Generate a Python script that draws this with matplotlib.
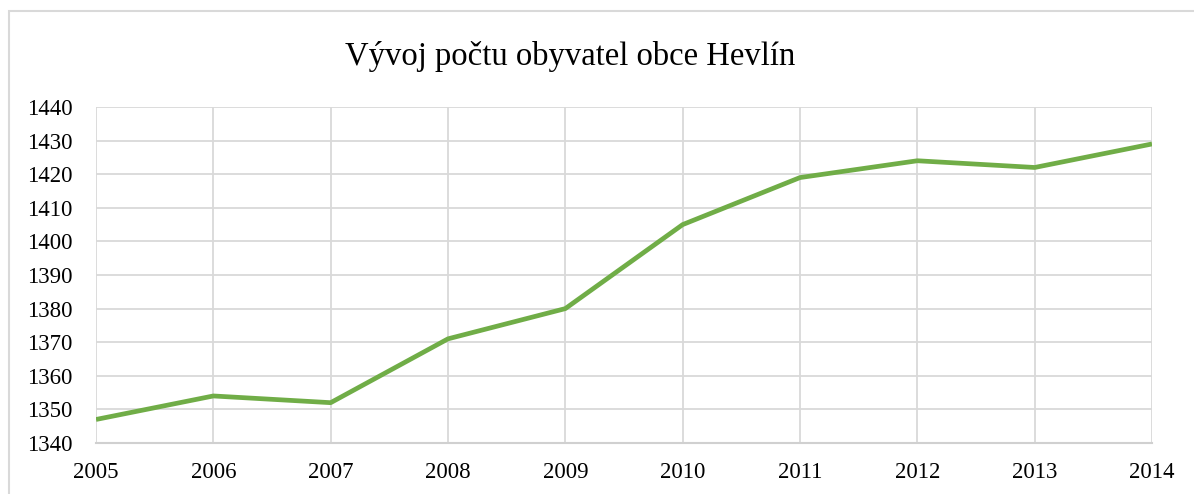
import matplotlib
matplotlib.use("Agg")
import matplotlib.pyplot as plt
from matplotlib.patches import Rectangle

years = [2005, 2006, 2007, 2008, 2009, 2010, 2011, 2012, 2013, 2014]
population = [1347, 1354, 1352, 1371, 1380, 1405, 1419, 1424, 1422, 1429]
yticks = list(range(1340, 1441, 10))
title = "Vývoj počtu obyvatel obce Hevlín"

plt.rcParams['font.family'] = ['Liberation Serif', 'DejaVu Serif']

W, H = 1194, 494
fig = plt.figure(figsize=(W / 100, H / 100), dpi=100)
fig.patch.set_facecolor('white')

# outer chart frame
fig.patches.append(Rectangle((9 / W, -0.1), 1.2, 1.1 - 11 / H, transform=fig.transFigure,
                             fill=False, edgecolor='#d9d9d9', linewidth=1.5))

ax = fig.add_axes([96 / W, 1 - 443 / H, (1152 - 96) / W, (443 - 107) / H])
ax.plot(years, population, color='#70ad47', linewidth=3.4, solid_capstyle='butt', zorder=3)

ax.set_xlim(years[0], years[-1])
ax.set_ylim(yticks[0], yticks[-1])
ax.set_xticks(years)
ax.set_yticks(yticks)
ax.grid(True, color='#d9d9d9', linewidth=1.3)
ax.set_axisbelow(True)
for s in ['top', 'right', 'left']:
    ax.spines[s].set_visible(False)
ax.spines['bottom'].set_color('#d0d0d0')
ax.spines['bottom'].set_linewidth(1.5)
ax.tick_params(axis='both', length=0, labelsize=16.5, colors='#000000')
ax.tick_params(axis='y', pad=17)
ax.tick_params(axis='x', pad=14)

fig.text(570 / W, 1 - 56 / H, title, ha='center', va='center', fontsize=23.5)

fig.savefig('out.png', dpi=100, facecolor='white')
